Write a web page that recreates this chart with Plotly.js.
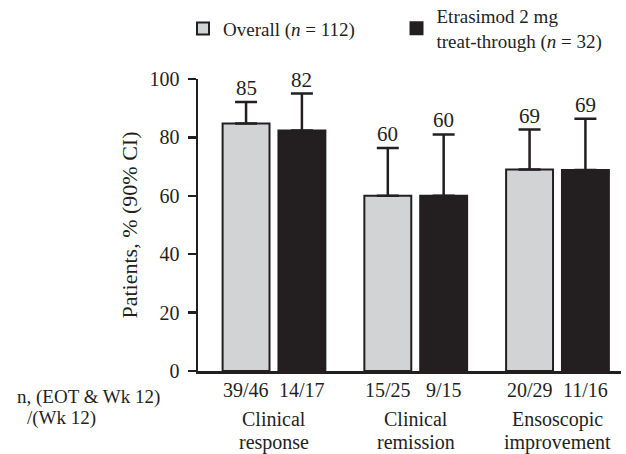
<!DOCTYPE html>
<html><head><meta charset="utf-8">
<script src="https://cdn.plot.ly/plotly-3.0.1.min.js"></script>
<style>html,body{margin:0;padding:0;background:#fff}</style>
</head><body><div id="chart" style="width:626px;height:454px"></div>
<script>
const categories = ["Clinical<br>response", "Clinical<br>remission", "Ensoscopic<br>improvement"];
const seriesNames = ["Overall (<i>n</i> = 112)", "Etrasimod 2 mg<br>treat-through (<i>n</i> = 32)"];
const overallValues = [84.8, 60.0, 69.0];
const overallUpper = [92.1, 76.4, 82.7];
const overallLabels = ["85", "60", "69"];
const overallCounts = ["39/46", "15/25", "20/29"];
const treatValues = [82.4, 60.0, 68.8];
const treatUpper = [95.0, 81.0, 86.4];
const treatLabels = ["82", "60", "69"];
const treatCounts = ["14/17", "9/15", "11/16"];
const yTicks = [0, 20, 40, 60, 80, 100];
const countsLabel = ["n, (EOT & Wk 12)", "/(Wk 12)"];
const yTitle = "Patients, % (90% CI)";

const ink = "#231f20";
const grey = "#d1d3d4";
const font = '"Liberation Serif", "Times New Roman", serif';
const xs = categories.map((_, i) => i);
const bargap = 0.212, bargroupgap = 0.16;
const half = (1 - bargap) / 4;

function barTrace(name, vals, upper, fill, legendId) {
  return {
    type: 'bar', name: name, x: xs, y: vals, legend: legendId,
    marker: {color: fill, line: {color: ink, width: 2}},
    error_y: {type: 'data', symmetric: false,
      array: upper.map((u, i) => u - vals[i]),
      arrayminus: vals.map(() => 0),
      color: ink, thickness: 2.5, width: 11},
    hoverinfo: 'skip'
  };
}
const traces = [
  barTrace(seriesNames[0], overallValues, overallUpper, grey, 'legend'),
  barTrace(seriesNames[1], treatValues, treatUpper, ink, 'legend2')
];

const annotations = [];
const series = [
  {upper: overallUpper, labels: overallLabels, counts: overallCounts, off: -half},
  {upper: treatUpper, labels: treatLabels, counts: treatCounts, off: half}
];
series.forEach(s => {
  xs.forEach(i => {
    annotations.push({x: i + s.off, y: s.upper[i], xref: 'x', yref: 'y', text: s.labels[i],
      showarrow: false, yanchor: 'bottom', xanchor: 'center', yshift: 0, font: {size: 21}});
    annotations.push({x: i + s.off, y: 0, xref: 'x', yref: 'paper', text: s.counts[i],
      showarrow: false, yanchor: 'top', xanchor: 'center', yshift: -6, font: {size: 20}});
  });
});
categories.forEach((c, i) => {
  c.split('<br>').forEach((line, k) => {
    annotations.push({x: i, y: 0, xref: 'x', yref: 'paper', text: line, showarrow: false,
      yanchor: 'top', xanchor: 'center', yshift: -36 - 22.5 * k, borderpad: 0,
      font: {size: 20}});
  });
});
countsLabel.forEach((line, k) => {
  annotations.push({x: k === 0 ? -0.4326 : -0.409, y: 0, xref: 'paper', yref: 'paper', text: line,
    showarrow: false, yanchor: 'top', xanchor: 'left', yshift: -13 - 21 * k, font: {size: 19}});
});

const legendBase = {orientation: 'h', xref: 'container', yref: 'container', y: 0.937,
  xanchor: 'left', yanchor: 'middle', font: {size: 19}, valign: 'middle',
  bgcolor: 'rgba(0,0,0,0)'};

const layout = {
  width: 626, height: 454,
  margin: {l: 198, r: 5, t: 79, b: 83, pad: 0},
  paper_bgcolor: '#fff', plot_bgcolor: '#fff',
  font: {family: font, color: ink, size: 19},
  barmode: 'group', bargap: bargap, bargroupgap: bargroupgap,
  xaxis: {range: [-0.536, 2.448], showgrid: false, zeroline: false, showline: true,
    linecolor: ink, linewidth: 2.5, ticks: '', showticklabels: false, fixedrange: true},
  yaxis: {range: [0, 100], tickvals: yTicks, ticks: 'outside', ticklen: 8, tickwidth: 2.5,
    tickcolor: ink, showline: true, linecolor: ink, linewidth: 2.5, showgrid: false,
    zeroline: false, tickfont: {size: 20}, ticklabelstandoff: 4, fixedrange: true,
    title: {text: yTitle, font: {size: 22}, standoff: 6}},
  showlegend: true,
  legend: Object.assign({x: 0.2923}, legendBase),
  legend2: Object.assign({x: 0.6334}, legendBase),
  annotations: annotations
};
Plotly.newPlot('chart', traces, layout, {staticPlot: true, displayModeBar: false});
</script></body></html>
